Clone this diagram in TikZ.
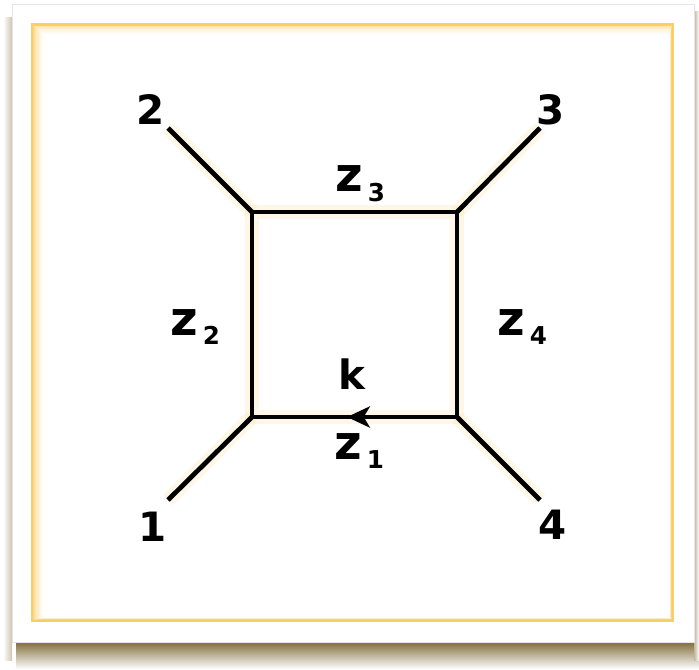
\documentclass[tikz,border=0pt]{standalone}
\usepackage{fontspec}
\setmainfont{DejaVu Sans}
\usetikzlibrary{arrows.meta}
\definecolor{glow}{RGB}{250,205,100}
\definecolor{shadowgold}{RGB}{130,110,60}
\newcommand\zsub[1]{z\hspace{3pt}\raisebox{-5.5pt}{\fontsize{14}{14}\selectfont #1}}

\begin{document}
\begin{tikzpicture}[x=0.02cm, y=-0.02cm,
  leg/.style={line width=2.7pt, preaction={draw=glow, line width=8pt, opacity=0.15}},
  num/.style={font=\fontsize{23}{23}\selectfont\bfseries, inner sep=0pt},
  zl/.style={font=\fontsize{27}{27}\selectfont\bfseries, inner sep=0pt},
  >={Stealth[length=13pt,width=12pt,inset=3.5pt]}
]
  \useasboundingbox (0,0) rectangle (699,669);

  % frame, shadow and inner glow
  \shade[top color=shadowgold, bottom color=white] (16,642) rectangle (699,669);
  \shade[left color=white, right color=shadowgold!40] (3,18) rectangle (12,660);
  \shade[left color=shadowgold!50, right color=white] (694,12) rectangle (699,660);
  \filldraw[fill=white, draw=gray!20] (12,4) rectangle (694,642);
  \foreach \i [evaluate=\i as \op using 0.95*(1-\i/12)^2] in {0,...,11}
    \draw[glow, opacity=\op, line width=0.7pt] (32+1.2*\i,24+0.9*\i) rectangle (673-0.3*\i,621-0.3*\i);

  % loop corners
  \coordinate (a) at (252,417);
  \coordinate (b) at (252,212);
  \coordinate (c) at (457,212);
  \coordinate (d) at (457,417);
  \coordinate (m) at (347,417);

  % leg ends
  \coordinate (e1) at (168,500);
  \coordinate (e2) at (168,128);
  \coordinate (e3) at (540,128);
  \coordinate (e4) at (540,500);

  \node[num] (n1) at (153,527) {1};
  \node[num] (n2) at (151,110) {2};
  \node[num] (n3) at (551,110) {3};
  \node[num] (n4) at (553,525) {4};

  \draw[leg, line join=miter] (a) -- (b) -- (c) -- (d) -- cycle;
  \draw[line width=2.7pt, ->] (d) -- (m);
  \draw[leg] (e1) -- (a);
  \draw[leg] (e2) -- (b);
  \draw[leg] (e3) -- (c);
  \draw[leg] (e4) -- (d);

  \node[zl] (z1) at (359,451) {\zsub{1}};
  \node[zl] (z2) at (195,327) {\zsub{2}};
  \node[zl] (z3) at (360,184) {\zsub{3}};
  \node[zl] (z4) at (522,327) {\zsub{4}};
  \node[num] (k) at (352,374) {k};
\end{tikzpicture}
\end{document}
